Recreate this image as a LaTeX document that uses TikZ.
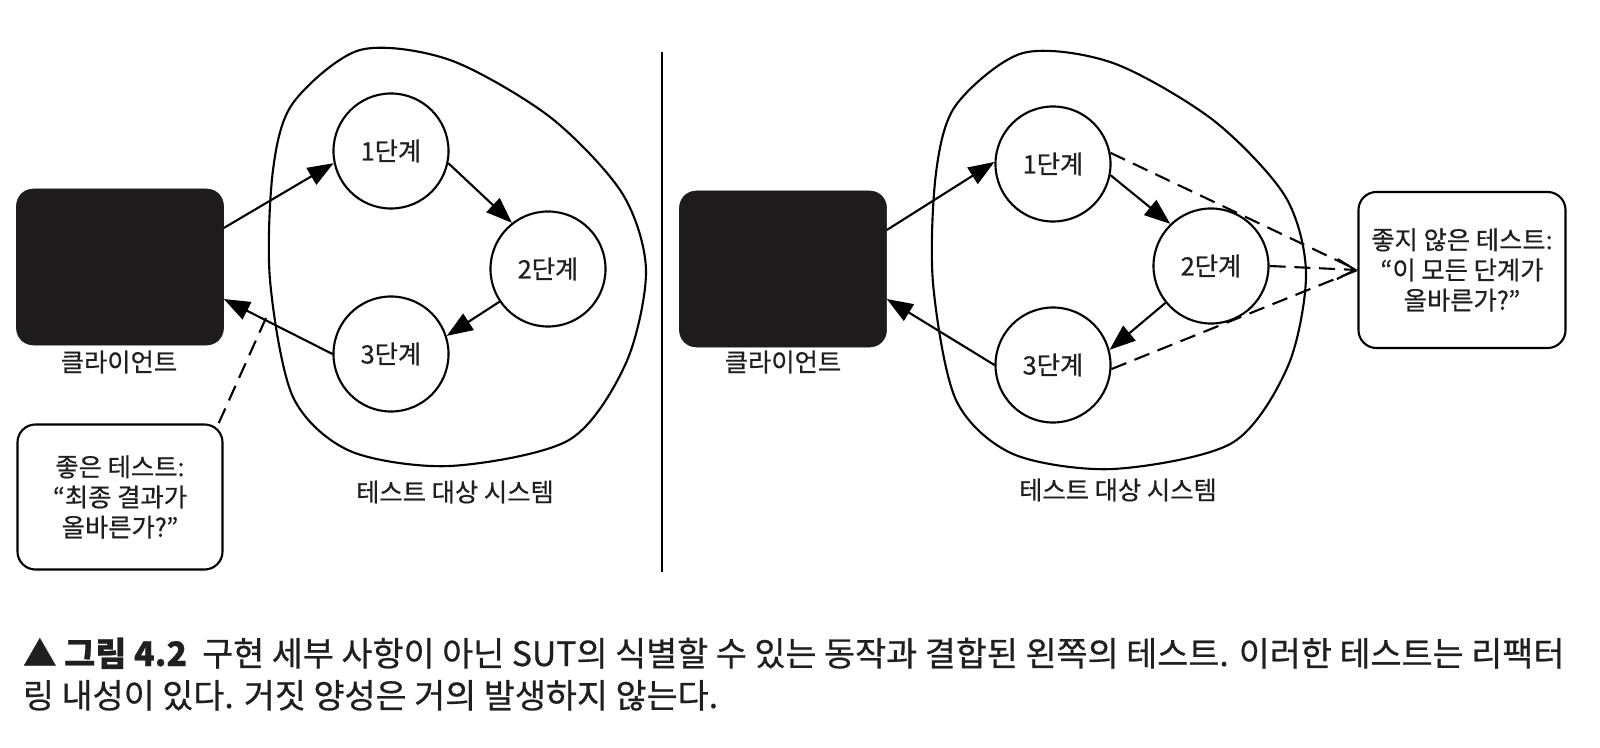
\documentclass[tikz,border=0pt]{standalone}
\usepackage{fontspec}
\setmainfont{Noto Sans CJK KR}
\newfontfamily\heavyfont{Noto Sans CJK KR}[FakeBold=0.6]
\usetikzlibrary{arrows.meta,calc}

\definecolor{clientblack}{HTML}{1E1B1C}
\definecolor{inkgray}{HTML}{1F1F1F}

\begin{document}
\begin{tikzpicture}[x=0.025cm, y=-0.025cm,
    every node/.style={font=\heavyfont\fontsize{18}{21.5}\selectfont, text=inkgray},
    sut/.style={line width=1.5pt},
    client/.style={fill=clientblack, draw=clientblack, rounded corners=0.42cm, minimum width=5.175cm, minimum height=3.9cm},
    stage/.style={circle, draw, line width=1.5pt, minimum size=2.875cm, inner sep=0pt},
    note/.style={draw, line width=1.5pt, rounded corners=0.45cm, align=center, minimum width=5.15cm, minimum height=3.65cm},
    flow/.style={line width=1.5pt, -{Triangle[length=0.65cm,width=0.48cm]}},
    hint/.style={line width=1.5pt, dash pattern=on 0.4cm off 0.22cm},
    caption/.style={anchor=base west, font=\heavyfont\fontsize{24}{30}\selectfont}
    ]
    \useasboundingbox (0,0) rectangle (1600,748);

    % left: good test
    \draw[sut] plot[smooth cycle] coordinates {(293,103) (360,50) (450,60) (550,117) (622,193) (646,270) (626,363) (569,440) (450,466) (350,451) (293,397) (270,280) (273,170)};
    \node[client] (clientL) at (120,267) {};
    \node (clientTxtL) at (119,362) {클라이언트};
    \node[stage] (s1L) at (391,151) {1단계};
    \node[stage] (s2L) at (548,269) {2단계};
    \node[stage] (s3L) at (391,354) {3단계};
    \node (sutTxtL) at (455,492) {테스트 대상 시스템};
    \node[note, minimum width=5.125cm, minimum height=3.625cm] (goodL) at (120,497) {좋은 테스트:\\“최종 결과가\\올바른가?”};
    \draw[flow] ([yshift=0.975cm]clientL.east) -- (s1L.192);
    \draw[flow] (s1L.-12) -- (s2L.128);
    \draw[flow] (s2L.214) -- (s3L.18);
    \draw[flow] (s3L.west) -- ([yshift=-0.8cm]clientL.east);
    \coordinate (hintL) at (266,318);
    \draw[hint] (hintL) -- ($(goodL.north east)+(-5,0)$);

    % divider
    \draw[line width=1.4pt] (662,52) -- (662,572);

    % right: bad test
    \draw[sut] plot[smooth cycle] coordinates {(956,105) (1023,53) (1113,63) (1213,120) (1285,196) (1306,273) (1288,366) (1232,443) (1113,469) (1013,454) (956,400) (933,283) (936,173)};
    \node[client] (clientR) at (783,269) {};
    \node (clientTxtR) at (783,362) {클라이언트};
    \node[stage] (s1R) at (1053,164) {1단계};
    \node[stage] (s2R) at (1211,266) {2단계};
    \node[stage] (s3R) at (1053,365) {3단계};
    \node (sutTxtR) at (1118,490) {테스트 대상 시스템};
    \node[note, minimum width=5.175cm, minimum height=3.9cm] (badR) at (1462,270) {좋지 않은 테스트:\\“이 모든 단계가\\올바른가?”};
    \draw[flow] ([yshift=0.975cm]clientR.east) -- (s1R.178);
    \draw[flow] (s1R.-11) -- (s2R.134);
    \draw[flow] (s2R.219) -- (s3R.15);
    \draw[flow] (s3R.west) -- ([yshift=-0.75cm]clientR.east);
    \draw[hint] (s1R.11) -- (badR.west);
    \draw[hint, -{Straight Barb[length=0.45cm,width=0.5cm]}] (s2R.east) -- (badR.west);
    \draw[hint] (s3R.-4) -- (badR.west);

    % caption
    \node[caption] (cap1) at (18,666) {▲ \textbf{그림 4.2}\ \ 구현 세부 사항이 아닌 SUT의 식별할 수 있는 동작과 결합된 왼쪽의 테스트. 이러한 테스트는 리팩터};
    \node[caption] (cap2) at (18,708) {링 내성이 있다. 거짓 양성은 거의 발생하지 않는다.};
\end{tikzpicture}
\end{document}
